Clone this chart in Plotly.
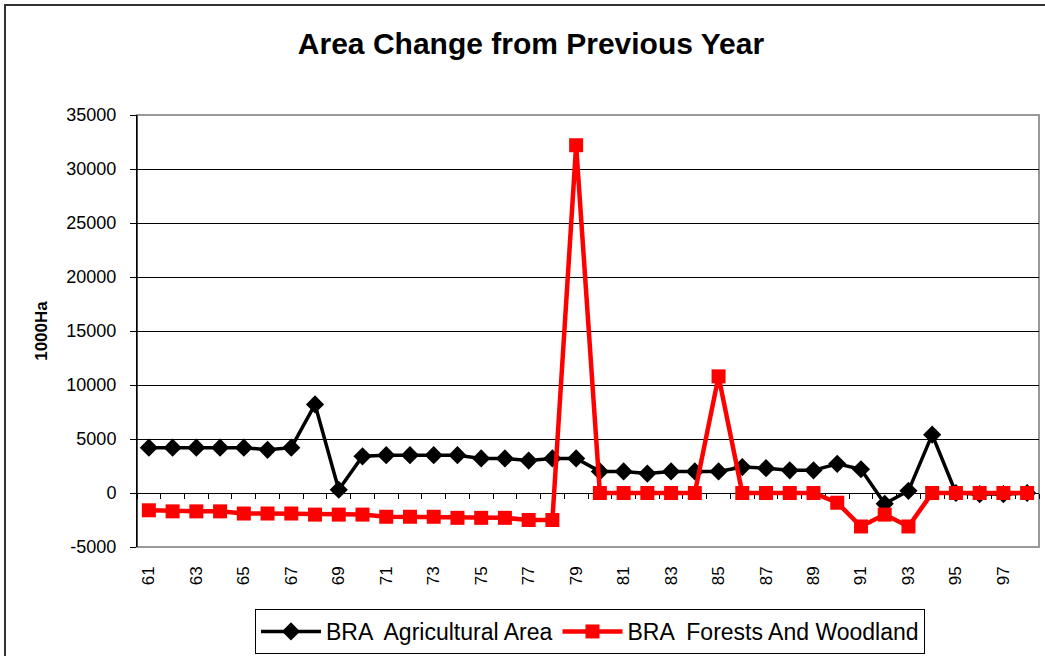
import plotly.graph_objects as go

years = [str(y) for y in range(61, 99)]
tick_labels = [str(y) for y in range(61, 99, 2)]
y_ticks = [-5000, 0, 5000, 10000, 15000, 20000, 25000, 30000, 35000]
y_tick_text = ["-5000", "0", "5000", "10000", "15000", "20000", "25000", "30000", "35000"]

agri = [4200, 4200, 4200, 4200, 4200, 4000, 4200, 8200, 300, 3400,
        3500, 3500, 3500, 3500, 3200, 3200, 3000, 3200, 3200, 2000,
        2000, 1800, 2000, 2000, 2000, 2400, 2300, 2100, 2100, 2700,
        2200, -1000, 200, 5400, 0, -100, -100, 0]

forest = [-1600, -1700, -1700, -1700, -1900, -1900, -1900, -2000, -2000, -2000,
          -2200, -2200, -2200, -2300, -2300, -2300, -2500, -2500, 32200, 0,
          0, 0, 0, 0, 10800, 0, 0, 0, 0, -900,
          -3100, -2000, -3100, 0, 0, 0, 0, 0]

W, H = 1045, 656
L, R, T, B = 137, 6, 115, 109
pw, ph = W - L - R, H - T - B

fig = go.Figure()
fig.add_trace(go.Scatter(
    x=years, y=agri, name="BRA  Agricultural Area", mode="lines+markers",
    line=dict(color="black", width=3.5),
    marker=dict(symbol="diamond", size=14, color="black"),
    xaxis="x", yaxis="y"))
fig.add_trace(go.Scatter(
    x=years, y=forest, name="BRA  Forests And Woodland", mode="lines+markers",
    line=dict(color="#ff0000", width=4.5),
    marker=dict(symbol="square", size=14, color="#ff0000"),
    xaxis="x2", yaxis="y"))

ymin, ymax = y_ticks[0], y_ticks[-1]
zero_pos = (0 - ymin) / (ymax - ymin)

common_x = dict(type="category", categoryorder="array", categoryarray=years,
                range=[-0.5, len(years) - 0.5])

FONT = "Arial, Liberation Sans, sans-serif"

fig.update_layout(
    width=W, height=H,
    margin=dict(l=L, r=R, t=T, b=B, autoexpand=False),
    paper_bgcolor="white", plot_bgcolor="white",
    font=dict(family=FONT, color="black"),
    title=dict(text="<b>Area Change from Previous Year</b>",
               font=dict(size=30, family=FONT),
               x=531 / W, xanchor="center", xref="container",
               y=1 - 43 / H, yanchor="middle", yref="container"),
    xaxis=dict(**common_x, tickmode="array", tickvals=tick_labels, ticktext=tick_labels,
               tickangle=-90, ticks="", showgrid=False, showline=False,
               tickfont=dict(size=17), ticklabelstandoff=15, zeroline=False),
    xaxis2=dict(**common_x, overlaying="x", anchor="free", position=zero_pos,
                showticklabels=False, ticks="outside", tickson="boundaries",
                ticklen=5, tickcolor="black", showline=True, linecolor="black",
                linewidth=1, showgrid=False, zeroline=False, layer="below traces"),
    yaxis=dict(range=[ymin, ymax], tickmode="array", tickvals=y_ticks, ticktext=y_tick_text,
               showline=True, linecolor="black", linewidth=1,
               ticks="outside", ticklen=6, tickcolor="black",
               showgrid=True, gridcolor="black", gridwidth=1, zeroline=False,
               tickfont=dict(size=18), ticklabelstandoff=10,
               title=dict(text="<b>1000Ha</b>", font=dict(size=17), standoff=14)),
    legend=dict(orientation="h", x=(590 - L) / pw, xanchor="center", y=-62 / ph, yanchor="top",
                bordercolor="black", borderwidth=1, bgcolor="white",
                font=dict(size=23), itemwidth=60),
    showlegend=True,
    shapes=[
        dict(type="rect", xref="paper", yref="paper", x0=0, x1=1, y0=0, y1=1,
             line=dict(color="#999999", width=2), layer="below"),
        dict(type="line", xref="paper", yref="paper", x0=0, x1=0, y0=0, y1=1,
             line=dict(color="black", width=1), layer="below"),
        dict(type="rect", xref="paper", yref="paper",
             x0=(5 - L) / pw, x1=(W + 20 - L) / pw,
             y0=-(H + 20 - T - ph) / ph, y1=1 + (T - 5) / ph,
             line=dict(color="#333333", width=2), layer="below"),
    ],
)

fig.write_html("out.html", config={"displayModeBar": False},
               post_script="document.body.style.margin='0';")
